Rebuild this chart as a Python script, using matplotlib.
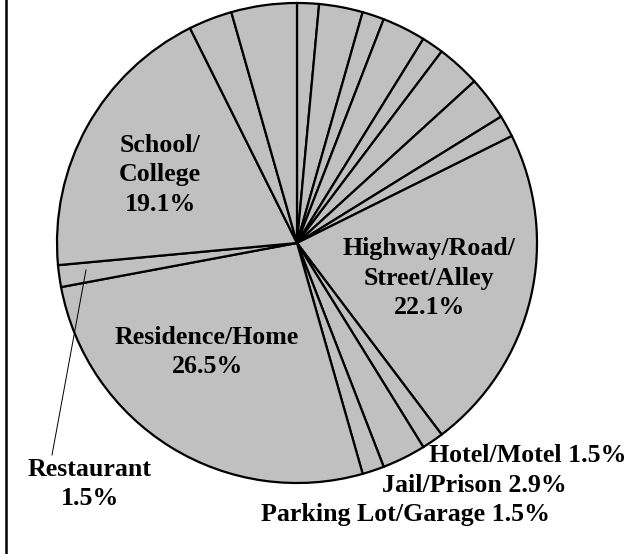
import matplotlib.pyplot as plt
from matplotlib.lines import Line2D

# incident counts per location (68 incidents in total), clockwise from 12 o'clock
slice_names = [
    "", "", "", "", "", "", "", "",
    "Highway/Road/\nStreet/Alley",
    "Hotel/Motel",
    "Jail/Prison",
    "Parking Lot/Garage",
    "Residence/Home",
    "Restaurant",
    "School/\nCollege",
    "", "",
]
slice_counts = [1, 2, 1, 2, 1, 2, 2, 1, 15, 1, 2, 1, 18, 1, 13, 2, 3]

W, H = 629, 554
CX, CY, R = 297, 243, 240  # pie centre / radius in pixels

plt.rcParams["font.family"] = ["Liberation Serif", "DejaVu Serif"]
plt.rcParams["font.weight"] = "bold"

fig = plt.figure(figsize=(W / 100, H / 100), dpi=100)
ax = fig.add_axes([(CX - R) / W, (H - CY - R) / H, 2 * R / W, 2 * R / H])
ax.pie(
    slice_counts,
    startangle=90,
    counterclock=False,
    colors=["#c0c0c0"] * len(slice_counts),
    wedgeprops=dict(edgecolor="black", linewidth=1.6),
    radius=1.0,
)
ax.set_xlim(-1.0, 1.0)
ax.set_ylim(-1.0, 1.0)
ax.set_aspect("equal")
ax.axis("off")

total = sum(slice_counts)


def pct(name):
    return f"{100 * slice_counts[slice_names.index(name)] / total:.1f}%"


def px(x, y):
    # pixel position -> pie data coords
    return (x - CX) / R, (CY - y) / R


# label placement in pixels: (name, x, y, ha, one line?)
placements = [
    ("School/\nCollege", 160, 175, "center", False),
    ("Highway/Road/\nStreet/Alley", 429, 278, "center", False),
    ("Residence/Home", 207, 352, "center", False),
    ("Restaurant", 90, 484, "center", False),
    ("Hotel/Motel", 626, 455, "right", True),
    ("Jail/Prison", 567, 485, "right", True),
    ("Parking Lot/Garage", 550, 515, "right", True),
]
for name, x, y, ha, one_line in placements:
    sep = " " if one_line else "\n"
    tx, ty = px(x, y)
    ax.text(tx, ty, name + sep + pct(name), ha=ha, va="center",
            fontsize=18.6, fontweight="bold", linespacing=1.35,
            multialignment="center", clip_on=False)

# leader line for the restaurant slice
x0, y0 = px(86, 270)
x1, y1 = px(52, 455)
ax.plot([x0, x1], [y0, y1], color="black", linewidth=0.7, clip_on=False)

# left frame line
fig.add_artist(Line2D([6 / W, 6 / W], [0, 1], color="black", linewidth=1.8,
                      transform=fig.transFigure))

fig.savefig("out.png", dpi=100)
